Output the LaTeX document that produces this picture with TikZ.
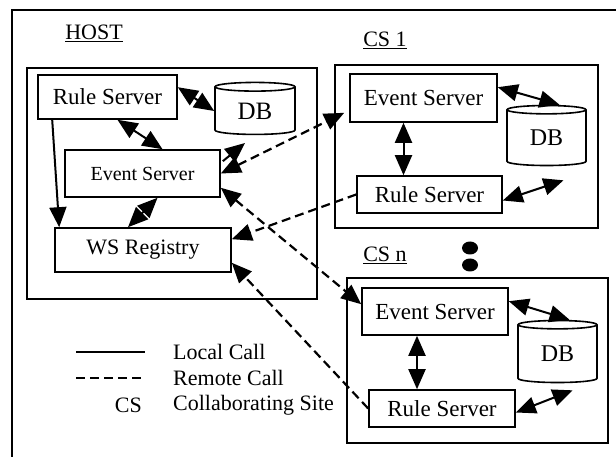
\documentclass[tikz,border=0pt]{standalone}
\usepackage{fontspec}
\setmainfont{Liberation Serif}
\usepackage{tikz}
\usetikzlibrary{shapes.geometric}
\usetikzlibrary{arrows.meta}
\usetikzlibrary{calc}
\tikzset{
	box/.style={draw,line width=1.6pt,inner sep=0pt,font=\fontsize{23}{26}\selectfont},
	site/.style={draw,line width=1.8pt,inner sep=0pt},
	db/.style={cylinder,draw,line width=1.6pt,shape border rotate=90,aspect=0.25,
		inner sep=0pt,font=\fontsize{24}{26}\selectfont},
	title/.style={font=\fontsize{22}{24}\selectfont,inner sep=0pt},
	legend/.style={font=\fontsize{22}{24}\selectfont,anchor=west,inner sep=0pt},
	local/.style={line width=2pt},
	remote/.style={line width=2.2pt,dash pattern=on 9pt off 5pt},
	onehead/.style={-{Triangle[length=20pt,width=17pt]}},
	twohead/.style={{Triangle[length=20pt,width=17pt]}-{Triangle[length=20pt,width=17pt]}}
}

\begin{document}
\begin{tikzpicture}[x=1pt,y=-1pt]
	\useasboundingbox (0,0) rectangle (616,457);
	\draw[line width=2pt] (616,10) -- (12,10) -- (12,457);
	% host
	\node [site,minimum width=290pt,minimum height=231pt] (host) at (172,183.5) {};
	\node [title] (hostlbl) at (94,33) {\underline{HOST}};
	\node [box,minimum width=139pt,minimum height=44pt] (hrs) at (107.5,97) {Rule Server};
	\node [db,minimum width=80pt,minimum height=52pt,font=\fontsize{25}{27}\selectfont] (hdb) at (255,111) {DB};
	\node [box,minimum width=155pt,minimum height=47pt,font=\fontsize{20}{22}\selectfont] (hes) at (142.5,173.5) {Event Server};
	\node [box,minimum width=176pt,minimum height=44pt,font=\fontsize{22}{24}\selectfont] (hws) at (143,250) {WS Registry};
	% collaborating site 1
	\node [site,minimum width=263pt,minimum height=163pt] (cs1) at (466.5,146.5) {};
	\node [title] (cs1lbl) at (385,40) {\underline{CS 1}};
	\node [box,minimum width=147pt,minimum height=48pt] (ces1) at (423.5,98) {Event Server};
	\node [db,minimum width=79pt,minimum height=60pt] (cdb1) at (546.5,138) {DB};
	\node [box,minimum width=145pt,minimum height=37pt] (crs1) at (429.5,194.5) {Rule Server};
	% collaborating site n
	\node [site,minimum width=261pt,minimum height=165pt] (csn) at (477.5,360.5) {};
	\node [title] (csnlbl) at (385,255) {\underline{CS n}};
	\node [box,minimum width=146pt,minimum height=47pt] (cesn) at (435,311.5) {Event Server};
	\node [db,minimum width=79pt,minimum height=62pt] (cdbn) at (557.5,354) {DB};
	\node [box,minimum width=146pt,minimum height=37pt] (crsn) at (442,408.5) {Rule Server};
	\fill (470,248) ellipse (8 and 6.5);
	\fill (470,265) ellipse (8 and 6.5);
	% local calls
	\draw[local,twohead] ($(hrs.north east)+(0,13)$) -- (hdb.west);
	\draw[local,twohead] ($(hrs.south)+(10,0)$) -- ($(hes.north)+(20,0)$);
	\draw[local,onehead] ($(hrs.south west)+(15,0)$) -- ($(hws.north west)+(5,0)$);
	\draw[local,twohead] ($(hes.south)+(15,0)$) -- ($(hws.north)+(-15,0)$);
	\coordinate (hesout) at (245,143);
	\draw[local,onehead] ($(hes.north east)+(2,12)$) -- (hesout);
	\draw[local,twohead] ($(ces1.south)+(-20,0)$) -- ($(crs1.north)+(-26,0)$);
	\draw[local,twohead] ($(ces1.north east)+(0,14)$) -- ($(cdb1.north)+(13,0)$);
	\draw[local,twohead] ($(crs1.east)+(0,6)$) -- ($(cdb1.south)+(17,14)$);
	\draw[local,twohead] ($(cesn.south)+(-18,0)$) -- ($(crsn.north)+(-25,0)$);
	\draw[local,twohead] ($(cesn.north east)+(0,14)$) -- ($(cdbn.north)+(12,0)$);
	\draw[local,twohead] ($(crsn.east)+(0,4)$) -- ($(cdbn.south)+(15,7)$);
	% remote calls
	\draw[remote,twohead] (hes.east) -- ($(ces1.south west)+(-5,-10)$);
	\draw[remote,twohead] ($(hes.south east)+(0,-10)$) -- ($(cesn.north west)+(0,17)$);
	\draw[remote,onehead] (crs1.west) -- ($(hws.north east)+(0,12)$);
	\draw[remote,onehead] (crsn.west) -- ($(hws.south east)+(0,-10)$);
	% legend
	\coordinate (la) at (76,352);
	\coordinate (lb) at (145,352);
	\coordinate (ra) at (76,378);
	\coordinate (rb) at (145,378);
	\draw[local] (la) -- (lb);
	\draw[remote] (ra) -- (rb);
	\node [legend] (lloc) at (173,352) {Local Call};
	\node [legend] (lrem) at (173,378) {Remote Call};
	\node [legend] (lcs) at (173,405) {Collaborating Site};
	\node [legend,anchor=east] (lcsab) at (142,405) {CS};
\end{tikzpicture}
\end{document}
